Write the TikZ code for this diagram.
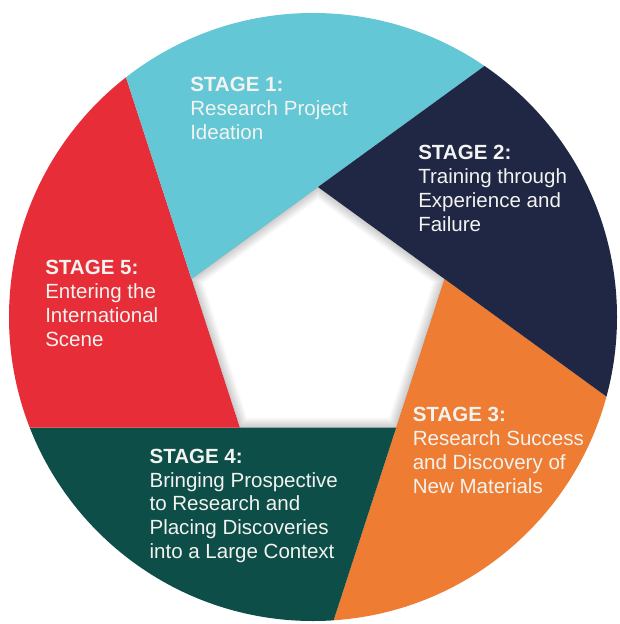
\documentclass[tikz,border=0pt]{standalone}
\usepackage{fontspec}
\setmainfont{Liberation Sans}
\usetikzlibrary{calc}

\definecolor{stagecyan}{RGB}{99,199,214}
\definecolor{stagenavy}{RGB}{31,39,68}
\definecolor{stageorange}{RGB}{239,124,51}
\definecolor{stagegreen}{RGB}{14,78,72}
\definecolor{stagered}{RGB}{231,45,55}
\definecolor{labelwhite}{RGB}{243,243,240}

\tikzset{
  stagetext/.style={anchor=north west, inner sep=0pt, align=left, text=labelwhite,
    font=\fontsize{15.4}{17.85}\selectfont},
  innershade/.style={draw=black, line join=miter, draw opacity=0.02}
}

\begin{document}
\begin{tikzpicture}[x=0.75pt,y=0.75pt,yscale=-1,xscale=1]
\useasboundingbox (0,0) rectangle (620,624);
\fill[white] (0,0) rectangle (620,624);

%Corners of the pentagon
\coordinate (pT) at (318,187);
\coordinate (pR) at (444.5,278.9);
\coordinate (pBR) at (396.2,427.6);
\coordinate (pBL) at (239.8,427.6);
\coordinate (pL) at (191.5,278.9);

\begin{scope}
%Shape: Circle
\clip (313,317) circle (304);
%Shape: Polygon stage 3
\fill[stageorange] (pR) -- ($(pT)!7!(pR)$) -- ($(pR)!7!(pBR)$) -- cycle;
%Shape: Polygon stage 4
\fill[stagegreen] (pBR) -- ($(pR)!7!(pBR)$) -- ($(pBR)!7!(pBL)$) -- cycle;
%Shape: Polygon stage 5
\fill[stagered] (pBL) -- ($(pBR)!7!(pBL)$) -- ($(pBL)!7!(pL)$) -- cycle;
%Shape: Polygon stage 1
\fill[stagecyan] (pL) -- ($(pBL)!7!(pL)$) -- ($(pL)!7!(pT)$) -- cycle;
%Shape: Polygon stage 2
\fill[stagenavy] (pT) -- ($(pL)!7!(pT)$) -- ($(pT)!7!(pR)$) -- cycle;
\end{scope}

%Shape: Pentagon (soft shade inside)
\begin{scope}
\clip (pT) -- (pR) -- (pBR) -- (pBL) -- (pL) -- cycle;
\foreach \w in {2,4,...,20}
  \draw[innershade, line width=\w*0.75pt] (pT) -- (pR) -- (pBR) -- (pBL) -- (pL) -- cycle;
\end{scope}

% Text Node
\node[stagetext] (s1) at (190,77) {\textbf{STAGE 1:}\\Research Project\\Ideation};
% Text Node
\node[stagetext] (s2) at (418,145.3) {\textbf{STAGE 2:}\\Training through\\Experience and\\Failure};
% Text Node
\node[stagetext] (s3) at (412.5,407.3) {\textbf{STAGE 3:}\\Research Success\\and Discovery of\\New Materials};
% Text Node
\node[stagetext] (s4) at (149.3,448.6) {\textbf{STAGE 4:}\\Bringing Prospective\\to Research and\\Placing Discoveries\\into a Large Context};
% Text Node
\node[stagetext] (s5) at (45,260.3) {\textbf{STAGE 5:}\\Entering the\\International\\Scene};

\end{tikzpicture}
\end{document}
